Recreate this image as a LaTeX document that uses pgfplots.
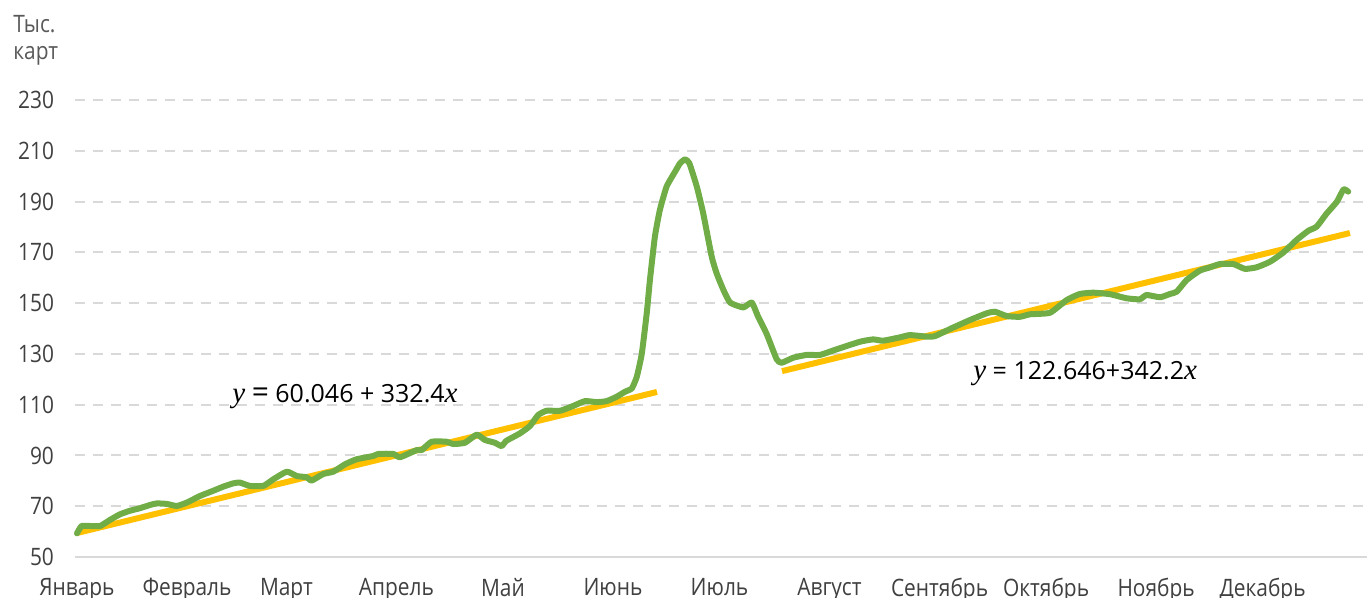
\documentclass[border=0pt]{standalone}
\usepackage{fontspec}
\setmainfont{Open Sans}[FakeStretch=0.87]
\newfontfamily\eqfont{Open Sans}
\newfontfamily\eqit{Liberation Serif}[UprightFont=*-Italic]
\usepackage{pgfplots}
\pgfplotsset{compat=1.18}
\definecolor{grn}{HTML}{70AD47}
\definecolor{org}{HTML}{FFC000}
\definecolor{gridc}{HTML}{D9D9D9}
\definecolor{txt}{HTML}{404040}
\definecolor{ttl}{HTML}{595959}
\newcommand{\vy}{{\eqit\fontsize{14.5}{16}\selectfont y}}
\newcommand{\vx}{{\eqit\fontsize{14.5}{16}\selectfont x}}
\begin{document}
\begin{tikzpicture}
\begin{axis}[
  scale only axis, width=646pt, height=228.5pt,
  at={(0,0)}, anchor=south west,
  xmin=-0.56, xmax=363.4, ymin=50, ymax=230,
  ytick={50,70,...,230},
  xtick={0,31,59,90,120,151,181,212,243,273,304,334},
  xticklabels={Январь,Февраль,Март,Апрель,Май,Июнь,Июль,Август,Сентябрь,Октябрь,Ноябрь,Декабрь},
  axis x line*=bottom, axis y line*=left,
  y axis line style={draw=none},
  x axis line style={draw=gridc, line width=1pt, -},
  major tick length=0pt,
  ymajorgrids, major grid style={draw=gridc, line width=1pt, dash pattern=on 5pt off 4pt},
  /pgf/number format/assume math mode=true,
  tick label style={font=\fontsize{12}{14}\selectfont, color=txt},
  yticklabel style={anchor=east, xshift=-7pt},
  xticklabel style={anchor=north, yshift=-7pt},
  clip=false,
]
\addplot[org, line width=3pt] coordinates {(0,59.45) (163.4,115.0)};
\addplot[org, line width=3pt] coordinates {(198.6,123.2) (358.6,177.6)};
\addplot[grn, line width=3pt, line join=round, line cap=round, smooth, tension=0.3] coordinates {
(0,59.3) (1.3,62.2) (3.7,62.2) (6.5,62.2) (9.3,64.6) (12.1,66.8) (14.9,68.2) (17.7,69.2)
(20.6,70.5) (22.5,71.1) (25.3,70.9) (28.1,70.1) (30.9,71.4) (34.6,74.0) (38.4,76.1)
(41.2,77.7) (44.0,79.0) (45.9,79.3) (48.7,78.0) (52.5,78.0) (55.3,80.6) (59.1,83.6)
(61.9,81.9) (64.7,81.4) (66.1,80.1) (69.4,82.7) (72.2,83.6) (75.5,86.5) (78.8,88.5)
(83.5,89.8) (84.9,90.6) (89.1,90.6) (91.0,89.3) (95.7,92.1) (97.1,92.1) (99.9,95.4)
(104.1,95.4) (106.0,94.5) (109.3,95.0) (112.6,98.2) (114.9,96.1) (117.7,95.0) (119.6,93.7)
(121.0,95.8) (124.8,98.7) (127.6,101.6) (129.9,105.9) (132.3,107.6) (136.1,107.6)
(139.8,109.5) (143.1,111.4) (146.4,111.0) (149.2,111.4) (152.0,113.1) (154.4,115.1)
(156.3,116.4) (157.7,121.0) (159.1,130.0) (160.5,146.0) (161.4,159.1) (162.8,176.2)
(164.2,186.7) (166.1,195.9) (168.5,201.8) (169.9,205.1) (171.3,206.6) (172.5,205.1)
(174.6,195.9) (176.4,185.4) (178.8,168.3) (180.2,161.7) (182.1,155.2) (184.0,150.2)
(187.7,148.3) (190.1,150.2) (191.9,144.6) (194.3,137.8) (197.1,127.9) (198.5,126.5)
(201.8,128.5) (205.6,129.6) (209.3,129.6) (214.0,131.8) (220.6,134.8) (224.3,135.7)
(227.1,135.2) (231.8,136.5) (234.6,137.4) (239.4,136.8) (241.7,137.0) (246.4,140.1)
(251.5,143.3) (256.3,146.0) (258.6,146.6) (261.9,144.9) (265.6,144.6) (268.5,145.6)
(274.1,146.2) (278.8,151.2) (282.5,153.6) (286.3,154.1) (291.0,153.5) (295.7,151.9)
(299.4,151.5) (301.3,153.2) (305.1,152.3) (307.9,153.6) (309.8,154.5) (312.6,159.1)
(316.3,162.8) (319.2,164.1) (322.0,165.4) (325.7,165.4) (329.0,163.5) (332.3,164.1)
(336.1,166.3) (339.8,169.9) (343.6,174.9) (346.9,178.5) (349.2,180.1) (352.1,185.4)
(354.9,189.9) (356.8,194.8) (358.1,193.9)
};
\node[anchor=base, inner sep=0, font=\eqfont\fontsize{12.5}{14}\selectfont, text=black] at (axis cs:75.5,110.7) {\vy\ {\fontsize{15}{16}\selectfont =} 60.046 + 332.4\vx};
\node[anchor=base, inner sep=0, font=\eqfont\fontsize{12.5}{14}\selectfont, text=black] at (axis cs:284,120.1) {\vy\ = 122.646+342.2\vx};
\end{axis}
\node[anchor=base west, inner sep=0, font=\fontsize{12}{14}\selectfont, text=ttl] at (-31pt,262pt) {Тыс.};
\node[anchor=base west, inner sep=0, font=\fontsize{12}{14}\selectfont, text=ttl] at (-31pt,248.5pt) {карт};
\pgfresetboundingbox
\useasboundingbox (-37.5pt,-20.5pt) rectangle (646pt,278.5pt);
\end{tikzpicture}
\end{document}
